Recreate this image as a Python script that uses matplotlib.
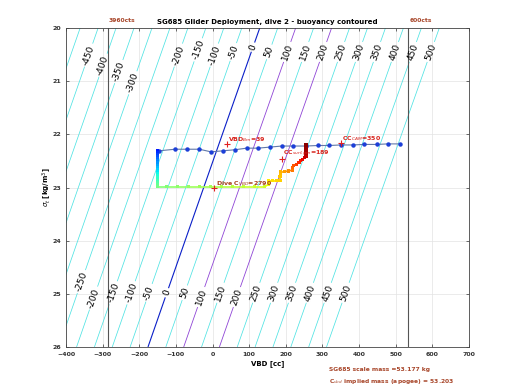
import matplotlib.pyplot as plt
from matplotlib.collections import LineCollection
import numpy as np

# glider numbers
glider = 'SG685'
dive_no = 2
scale_mass_kg = 53.177
implied_mass_kg = 53.203
hull_volume_cc = 52031.0

# buoyancy contour levels [g]
buoyancy_levels = list(range(-500, 550, 50))

# VBD limit lines [cc] and their count labels
limit_vbd = [-286, 534]
limit_labels = ['3960cts', '600cts']

# surface / apogee curve (blue dots)
surface_vbd = [-146, -102, -69, -36, -4, 28, 61, 93, 124, 157, 189, 220, 255,
               288, 319, 350, 383, 413, 448, 478, 511]
surface_sigma = [22.31, 22.28, 22.28, 22.28, 22.33, 22.31, 22.29, 22.26, 22.26,
                 22.24, 22.22, 22.22, 22.22, 22.21, 22.21, 22.20, 22.20, 22.19,
                 22.19, 22.18, 22.18]

# dive track, coloured by elapsed time
dive_vbd = [-151, -151, -151, -151, -151, -151, -151, -151, -151, -151, -151,
            -151, -151, -151, -151, -151, -151, -151,
            -125, -95, -65, -35, -5, 25, 55, 85, 115, 143,
            152, 152, 152, 163, 174, 184, 184, 185, 186, 197, 208, 218, 219,
            222, 230, 236, 240, 246, 251, 255, 255, 255, 255, 255]
dive_sigma = [22.30, 22.34, 22.38, 22.42, 22.46, 22.50, 22.54, 22.58, 22.62,
              22.66, 22.70, 22.74, 22.78, 22.82, 22.86, 22.90, 22.94, 22.985,
              22.985, 22.985, 22.985, 22.985, 22.985, 22.985, 22.985, 22.985,
              22.985, 22.985,
              22.94, 22.90, 22.87, 22.87, 22.87, 22.86, 22.80, 22.74, 22.70,
              22.70, 22.69, 22.67, 22.62, 22.58, 22.56, 22.53, 22.50, 22.47,
              22.44, 22.42, 22.36, 22.30, 22.25, 22.20]
dive_minutes = [15, 17, 19, 21, 23, 25, 27, 29, 31, 33, 35, 37, 39, 41, 43, 45,
                47, 49,
                51, 52, 53, 54, 55, 56, 57, 58, 59, 60,
                64, 65, 66, 67, 68, 69, 70, 71, 72, 74, 76, 78, 80, 82, 84, 86,
                88, 90, 92, 94, 96, 97, 98, 99]

# annotations
note_vbd = [39, 350, 189, 5]
note_sigma = [22.19, 22.17, 22.47, 23.01]
note_text = ['VBD$_{Bm}$=39', 'CC$_{CAM}$=350', 'CC$_{surf,gm}$=189',
             'Dive C$_{VBD}$=2790']
note_color = ['#d8231c', '#d8231c', '#d8231c', '#a8421c']

brown = '#a8462a'

fig = plt.figure(figsize=(5.2, 3.9), dpi=100)
ax = fig.add_axes([66 / 520, 1 - 347 / 390, 403 / 520, 319 / 390])

# buoyancy field: rho*(V+vbd) - m, in grams
vv, ss = np.meshgrid(np.linspace(-400, 700, 400), np.linspace(20, 26, 200))
buoy = (1 + ss / 1000.0) * (hull_volume_cc + vv) - implied_mass_kg * 1000

line_cols = []
line_w = []
for lev in buoyancy_levels:
    if lev == 0:
        line_cols.append('#0a1fc8')
        line_w.append(0.8)
    elif lev in (100, 200):
        line_cols.append('#8f45d6')
        line_w.append(0.6)
    else:
        line_cols.append('#4fe3e3')
        line_w.append(0.55)
cs = ax.contour(vv, ss, buoy, levels=buoyancy_levels, colors=line_cols,
                linewidths=line_w)

# limits before labelling, so the label angles follow the flipped axis
ax.set_xlim(-400, 700)
ax.set_ylim(26, 20)

# label positions: one row near the top, one near the bottom
top_sigma = {-450: 20.51, -400: 20.70, -350: 20.82, -300: 21.03, -200: 20.51,
             -150: 20.41, -100: 20.51, -50: 20.45, 0: 20.36}
bot_sigma = {-250: 24.77, -200: 25.08, 100: 25.06, 200: 25.06}
spots = []
for lev in buoyancy_levels:
    if lev in (-500, -250):
        pass
    else:
        s = top_sigma.get(lev, 20.45)
        spots.append(((implied_mass_kg * 1000 + lev) / (1 + s / 1000) - hull_volume_cc, s))
    if lev >= -250:
        s = bot_sigma.get(lev, 24.98)
        spots.append(((implied_mass_kg * 1000 + lev) / (1 + s / 1000) - hull_volume_cc, s))
cs.clabel(inline=True, fontsize=6.5, colors='k', manual=spots, inline_spacing=2,
          fmt='%d')

for xv, lab in zip(limit_vbd, limit_labels):
    ax.axvline(xv, color='#555555', lw=0.8)
    ax.text(xv + 3, 19.91, lab, color=brown, fontsize=4.3, fontweight='bold',
            ha='left', va='bottom')

ax.plot(surface_vbd, surface_sigma, '-', color='#6078a8', lw=0.8, zorder=4)
ax.plot(surface_vbd, surface_sigma, 'o', color='#1c3fd8', ms=2.2, zorder=5)

pts = np.array([dive_vbd, dive_sigma]).T
segs = np.stack([pts[:-1], pts[1:]], axis=1)
lc = LineCollection(segs, cmap='jet', norm=plt.Normalize(0, 100), lw=1.2,
                    zorder=5)
lc.set_array(np.array(dive_minutes[1:]))
ax.add_collection(lc)
ax.scatter(dive_vbd, dive_sigma, c=dive_minutes, cmap='jet', vmin=0, vmax=100,
           marker='s', s=5, linewidths=0, zorder=6)

for xv, yv, txt, col in zip(note_vbd, note_sigma, note_text, note_color):
    ax.plot(xv, yv, '+', color='#e02020', ms=4, mew=0.8, zorder=7)
    ax.text(xv + 4, yv, txt, color=col, fontsize=4.5, fontweight='bold',
            ha='left', va='bottom', zorder=8)

ax.set_xlim(-400, 700)
ax.set_ylim(26, 20)
ax.set_xticks(range(-400, 800, 100))
ax.set_yticks(range(20, 27))
ax.grid(True, color='#e3e3e3', lw=0.5)
ax.set_axisbelow(True)
ax.tick_params(labelsize=4.5, length=2.5, width=0.5, direction='in',
               colors='#333333', top=True, right=True)
for t in ax.get_xticklabels() + ax.get_yticklabels():
    t.set_fontweight('bold')
for sp in ax.spines.values():
    sp.set_linewidth(0.6)
    sp.set_color('#444444')

ax.set_xlabel('VBD [cc]', fontsize=5, fontweight='bold', labelpad=2)
ax.set_ylabel(r'$\sigma_t$ [kg/m$^3$]', fontsize=5, fontweight='bold')
ax.yaxis.set_label_coords(-0.03, 0.5)
ax.set_title('%s Glider Deployment, dive %d - buoyancy contoured' % (glider, dive_no),
             fontsize=5, fontweight='bold', pad=3)

fig.text(329 / 520, 1 - 370 / 390, '%s scale mass =%.3f kg' % (glider, scale_mass_kg),
         color=brown, fontsize=4.3, fontweight='bold', va='center')
fig.text(329 / 520, 1 - 382 / 390,
         'C$_{vbd}$ implied mass (apogee) = %.3f' % implied_mass_kg,
         color=brown, fontsize=4.3, fontweight='bold', va='center')

fig.savefig('out.png', dpi=100)
